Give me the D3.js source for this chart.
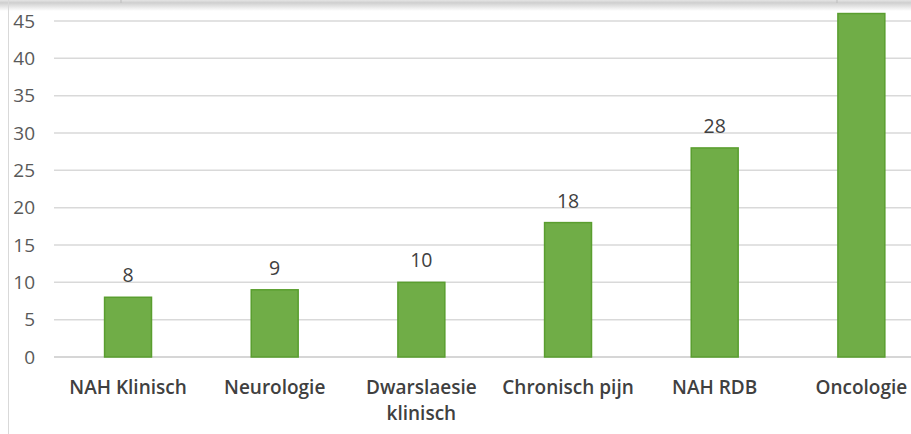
<!DOCTYPE html>
<html>
<head>
<meta charset="utf-8">
<script src="https://cdn.jsdelivr.net/npm/d3@7"></script>
<style>
  body { margin: 0; background: #fff; }
  svg { display: block; font-family: "Open Sans", sans-serif; }
</style>
</head>
<body>
<div id="chart"></div>
<script>
// data
var categories = ["NAH Klinisch", "Neurologie", "Dwarslaesie klinisch", "Chronisch pijn", "NAH RDB", "Oncologie"];
var values = [8, 9, 10, 18, 28, 46];
var yTicks = [0, 5, 10, 15, 20, 25, 30, 35, 40, 45];

var svgWidth = 911;
var svgHeight = 434;
var fontFam = "'Open Sans', sans-serif";

var svg = d3
  .select("#chart")
  .append("svg")
  .attr("width", svgWidth)
  .attr("height", svgHeight);

var data = categories.map(function(c, i) {
  return { name: c, value: values[i] };
});

// scales
var xScale = d3.scaleBand()
  .domain(categories)
  .range([54.7, 934.7])
  .paddingInner(0.68)
  .paddingOuter(0.34);

var yScale = d3.scaleLinear()
  .domain([0, 45])
  .range([357, 21]);

// gridlines
svg.append("g")
  .selectAll("line")
  .data(yTicks)
  .enter()
  .append("line")
  .attr("x1", 54)
  .attr("x2", svgWidth)
  .attr("y1", d => yScale(d))
  .attr("y2", d => yScale(d))
  .attr("stroke", d => d === 0 ? "#c8c8c8" : "#d9d9d9")
  .attr("stroke-width", 1.5);

// left axis, labels only
var leftAxis = d3.axisLeft(yScale).tickValues(yTicks).tickSize(0).tickPadding(0);
var yAxisG = svg.append("g")
  .attr("transform", "translate(35,0)")
  .call(leftAxis);
yAxisG.select(".domain").remove();
yAxisG.selectAll("text")
  .attr("font-family", fontFam)
  .attr("font-size", 19)
  .attr("fill", "#595959");

// bars
svg.append("g")
  .selectAll("rect")
  .data(data)
  .enter()
  .append("rect")
  .attr("x", d => xScale(d.name))
  .attr("y", d => yScale(d.value))
  .attr("width", xScale.bandwidth())
  .attr("height", d => yScale(0) - yScale(d.value))
  .attr("fill", "#70ad47")
  .attr("stroke", "#5a9e2f")
  .attr("stroke-width", 1.5);

// value labels (the tallest bar's label sits above the visible area, so skip it)
svg.append("g")
  .selectAll("text")
  .data(data.filter(d => d.value <= 45))
  .enter()
  .append("text")
  .attr("x", d => xScale(d.name) + xScale.bandwidth() / 2)
  .attr("y", d => yScale(d.value) - 15)
  .attr("text-anchor", "middle")
  .attr("font-size", 19.5)
  .attr("fill", "#404040")
  .text(d => d.value);

// category labels (wrap the long one)
var catLines = {
  "Dwarslaesie klinisch": ["Dwarslaesie", "klinisch"]
};
var catG = svg.append("g")
  .selectAll("text")
  .data(categories)
  .enter()
  .append("text")
  .attr("x", d => xScale(d) + xScale.bandwidth() / 2)
  .attr("y", 394)
  .attr("text-anchor", "middle")
  .attr("font-size", 19)
  .attr("font-weight", 600)
  .attr("fill", "#404040");

catG.each(function(d) {
  var lines = catLines[d] || [d];
  var t = d3.select(this);
  lines.forEach(function(l, i) {
    t.append("tspan")
      .attr("x", xScale(d) + xScale.bandwidth() / 2)
      .attr("dy", i === 0 ? 0 : 26)
      .text(l);
  });
});

// screenshot frame: top shadow band and left border
var defs = svg.append("defs");
var grad = defs.append("linearGradient")
  .attr("id", "topband")
  .attr("x1", 0).attr("y1", 0).attr("x2", 0).attr("y2", 1);
grad.append("stop").attr("offset", "0%").attr("stop-color", "#e4e4e4");
grad.append("stop").attr("offset", "25%").attr("stop-color", "#cfcfcf");
grad.append("stop").attr("offset", "100%").attr("stop-color", "#ffffff");

svg.append("rect")
  .attr("x", 0).attr("y", 0)
  .attr("width", svgWidth).attr("height", 11)
  .attr("fill", "url(#topband)");

svg.selectAll(".topTick")
  .data([121, 837])
  .enter()
  .append("line")
  .attr("class", "topTick")
  .attr("x1", d => d).attr("x2", d => d)
  .attr("y1", 0).attr("y2", 3)
  .attr("stroke", "#bdbdbd");

svg.append("line")
  .attr("x1", 8.5).attr("x2", 8.5)
  .attr("y1", 0).attr("y2", svgHeight)
  .attr("stroke", "#d9d9d9")
  .attr("stroke-width", 1);
</script>
</body>
</html>
